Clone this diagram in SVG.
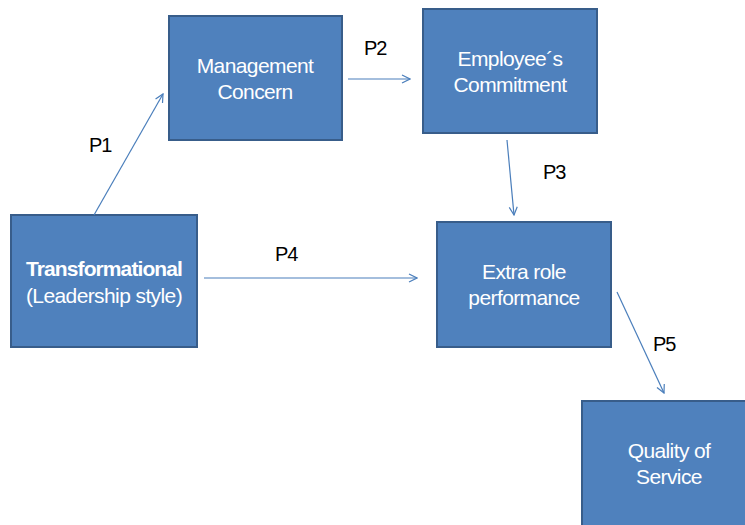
<svg xmlns="http://www.w3.org/2000/svg" width="745" height="525" viewBox="0 0 745 525">
<defs>
<style>
.box{fill:#4F81BD;stroke:#385D8A;stroke-width:2}
.t{font-family:"Liberation Sans",Arial,sans-serif;font-size:21px;fill:#fff;text-anchor:middle;letter-spacing:-0.6px}
.b{font-weight:bold;letter-spacing:-0.9px}
.lbl{font-family:"Liberation Sans",Arial,sans-serif;font-size:20px;fill:#000;letter-spacing:-1px}
.c{stroke:#4A7EBB;stroke-width:1.2;fill:none}
</style>
<marker id="ah" viewBox="0 0 10 10" refX="9" refY="5" markerWidth="10" markerHeight="10" markerUnits="userSpaceOnUse" orient="auto">
<path d="M1,1 L9,5 L1,9" fill="none" stroke="#4A7EBB" stroke-width="1.2"/>
</marker>
</defs>
<rect width="745" height="525" fill="#fff"/>
<g id="transformational">
<rect class="box" x="11" y="215" width="186" height="132"/>
<text class="t b" x="104" y="276">Transformational</text>
<text class="t" x="104" y="303">(Leadership style)</text>
</g>
<g id="management">
<rect class="box" x="169" y="16" width="173" height="124"/>
<text class="t" x="255" y="73">Management</text>
<text class="t" x="255" y="99">Concern</text>
</g>
<g id="commitment">
<rect class="box" x="423" y="9" width="174" height="124"/>
<text class="t" x="510" y="66">Employee´s</text>
<text class="t" x="510" y="92">Commitment</text>
</g>
<g id="extrarole">
<rect class="box" x="437" y="222" width="174" height="125"/>
<text class="t" x="524" y="279">Extra role</text>
<text class="t" x="524" y="305">performance</text>
</g>
<g id="quality">
<rect class="box" x="582" y="401" width="175" height="135"/>
<text class="t" x="669" y="458">Quality of</text>
<text class="t" x="669" y="484">Service</text>
</g>
<g id="connectors">
<line class="c" x1="94" y1="215" x2="163" y2="94" marker-end="url(#ah)"/>
<line class="c" x1="348" y1="79" x2="410" y2="79" marker-end="url(#ah)"/>
<line class="c" x1="507" y1="140" x2="514" y2="215" marker-end="url(#ah)"/>
<line class="c" x1="204" y1="278" x2="417" y2="278" marker-end="url(#ah)"/>
<line class="c" x1="617" y1="292" x2="664" y2="393" marker-end="url(#ah)"/>
<text class="lbl" x="89" y="152">P1</text>
<text class="lbl" x="364" y="55">P2</text>
<text class="lbl" x="543" y="179">P3</text>
<text class="lbl" x="275" y="261">P4</text>
<text class="lbl" x="653" y="351">P5</text>
</g>
</svg>
